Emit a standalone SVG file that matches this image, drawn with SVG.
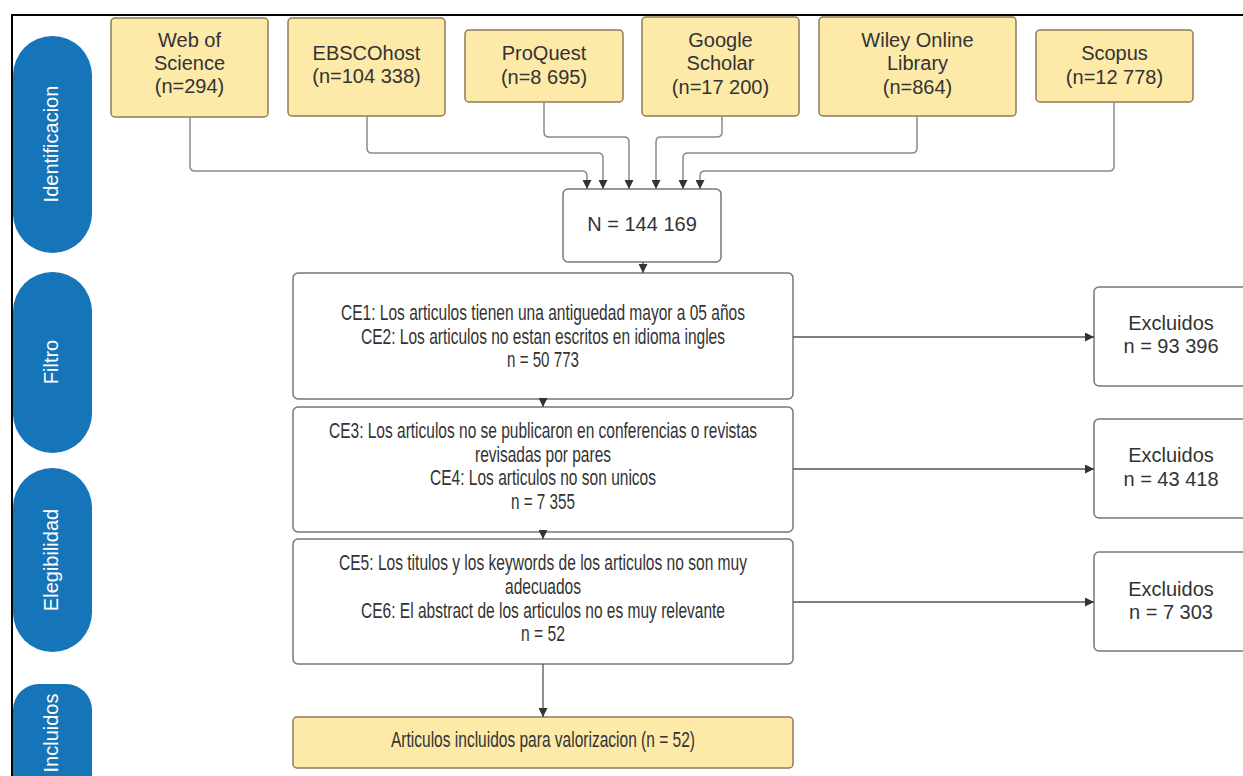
<svg xmlns="http://www.w3.org/2000/svg" width="1243" height="776" viewBox="0 0 1243 776">
<defs>
<marker id="ah" markerUnits="userSpaceOnUse" markerWidth="9" markerHeight="9" refX="9" refY="4.5" orient="auto" viewBox="0 0 9 9">
<path d="M0,0 L9,4.5 L0,9 z" fill="#333"/>
</marker>
<style>
.src{fill:#fde9a8;stroke:#8c7c58;stroke-width:1.5}
.box{fill:#fff;stroke:#777;stroke-width:1.5}
.lane{fill:#1674b8}
.lt{fill:#fff;font-family:"Liberation Sans",Arial,sans-serif;font-size:20px;text-anchor:middle;dominant-baseline:central}
.t{fill:#333;font-family:"Liberation Sans",Arial,sans-serif;font-size:20px;text-anchor:middle}
.c{fill:#333;font-family:"Liberation Sans",Arial,sans-serif;font-size:21.5px;text-anchor:middle}
.con{fill:none;stroke:#8a8a8a;stroke-width:1.5;marker-end:url(#ah)}
.con2{fill:none;stroke:#555;stroke-width:1.3;marker-end:url(#ah)}
</style>
</defs>
<rect width="1243" height="776" fill="#fff"/>
<path d="M12 776 V15 H1243" fill="none" stroke="#000" stroke-width="2"/>

<g id="lane-identificacion"><rect class="lane" x="13" y="36" width="79" height="217" rx="39.5"/><text class="lt" transform="translate(51 144) rotate(-90)">Identificacion</text></g>
<g id="lane-filtro"><rect class="lane" x="13" y="272" width="79" height="181" rx="39.5"/><text class="lt" transform="translate(51 362) rotate(-90)">Filtro</text></g>
<g id="lane-elegibilidad"><rect class="lane" x="13" y="468" width="79" height="184" rx="39.5"/><text class="lt" transform="translate(51 560) rotate(-90)">Elegibilidad</text></g>
<g id="lane-incluidos"><rect class="lane" x="13" y="684" width="79" height="140" rx="26"/><text class="lt" transform="translate(51 733) rotate(-90)">Incluidos</text></g>

<g id="wos"><rect class="src" x="111" y="18" width="157" height="99" rx="4"/><text class="t" x="189.5" y="47">Web of</text><text class="t" x="189.5" y="70">Science</text><text class="t" x="189.5" y="93">(n=294)</text></g>
<g id="ebsco"><rect class="src" x="288" y="18" width="157" height="98" rx="4"/><text class="t" x="366.5" y="60">EBSCOhost</text><text class="t" x="366.5" y="83">(n=104 338)</text></g>
<g id="proquest"><rect class="src" x="465" y="30" width="158" height="72" rx="4"/><text class="t" x="544" y="60">ProQuest</text><text class="t" x="544" y="84">(n=8 695)</text></g>
<g id="scholar"><rect class="src" x="642" y="17" width="157" height="99" rx="4"/><text class="t" x="720.5" y="47">Google</text><text class="t" x="720.5" y="70">Scholar</text><text class="t" x="720.5" y="94">(n=17 200)</text></g>
<g id="wiley"><rect class="src" x="819" y="17" width="197" height="99" rx="4"/><text class="t" x="917.5" y="47">Wiley Online</text><text class="t" x="917.5" y="70">Library</text><text class="t" x="917.5" y="94">(n=864)</text></g>
<g id="scopus"><rect class="src" x="1036" y="30" width="157" height="72" rx="4"/><text class="t" x="1114.5" y="60">Scopus</text><text class="t" x="1114.5" y="84">(n=12 778)</text></g>

<g id="total"><rect class="box" x="563" y="189" width="158" height="73" rx="5"/><text class="t" x="642" y="231">N = 144 169</text></g>

<g id="filtro1"><rect class="box" x="293" y="273" width="500" height="126" rx="5"/>
<text class="c" x="543" y="320" textLength="404" lengthAdjust="spacingAndGlyphs">CE1: Los articulos tienen una antiguedad mayor a 05 años</text>
<text class="c" x="543" y="344" textLength="364" lengthAdjust="spacingAndGlyphs">CE2: Los articulos no estan escritos en idioma ingles</text>
<text class="c" x="543" y="367" textLength="72" lengthAdjust="spacingAndGlyphs">n = 50 773</text></g>

<g id="filtro2"><rect class="box" x="293" y="407" width="500" height="125" rx="5"/>
<text class="c" x="543" y="438" textLength="428" lengthAdjust="spacingAndGlyphs">CE3: Los articulos no se publicaron en conferencias o revistas</text>
<text class="c" x="543" y="462" textLength="136" lengthAdjust="spacingAndGlyphs">revisadas por pares</text>
<text class="c" x="543" y="485" textLength="226" lengthAdjust="spacingAndGlyphs">CE4: Los articulos no son unicos</text>
<text class="c" x="543" y="509" textLength="64" lengthAdjust="spacingAndGlyphs">n = 7 355</text></g>

<g id="filtro3"><rect class="box" x="293" y="539" width="500" height="125" rx="5"/>
<text class="c" x="543" y="570" textLength="408" lengthAdjust="spacingAndGlyphs">CE5: Los titulos y los keywords de los articulos no son muy</text>
<text class="c" x="543" y="594" textLength="76" lengthAdjust="spacingAndGlyphs">adecuados</text>
<text class="c" x="543" y="618" textLength="364" lengthAdjust="spacingAndGlyphs">CE6: El abstract de los articulos no es muy relevante</text>
<text class="c" x="543" y="641" textLength="44" lengthAdjust="spacingAndGlyphs">n = 52</text></g>

<g id="incluidos"><rect class="src" x="293" y="717" width="500" height="51" rx="4"/>
<text class="c" x="543" y="747" textLength="304" lengthAdjust="spacingAndGlyphs">Articulos incluidos para valorizacion (n = 52)</text></g>

<g id="excl1"><rect class="box" x="1094" y="287" width="160" height="99" rx="5"/><text class="t" x="1171" y="330">Excluidos</text><text class="t" x="1171" y="353">n = 93 396</text></g>
<g id="excl2"><rect class="box" x="1094" y="419" width="160" height="99" rx="5"/><text class="t" x="1171" y="462">Excluidos</text><text class="t" x="1171" y="486">n = 43 418</text></g>
<g id="excl3"><rect class="box" x="1094" y="552" width="160" height="99" rx="5"/><text class="t" x="1171" y="596">Excluidos</text><text class="t" x="1171" y="619">n = 7 303</text></g>

<g id="connectors">
<path class="con" d="M190 117 V166 Q190 171 195 171 H582 Q587 171 587 176 V189"/>
<path class="con" d="M367 116 V148 Q367 153 372 153 H598 Q603 153 603 158 V189"/>
<path class="con" d="M544 102 V132 Q544 137 549 137 H624 Q629 137 629 142 V189"/>
<path class="con" d="M722 116 V132 Q722 137 717 137 H661 Q656 137 656 142 V189"/>
<path class="con" d="M917 116 V148 Q917 153 912 153 H688 Q683 153 683 158 V189"/>
<path class="con" d="M1114 102 V166 Q1114 171 1109 171 H705 Q700 171 700 176 V189"/>
<path class="con2" d="M643 262 V273"/>
<path class="con2" d="M543 399 V407"/>
<path class="con2" d="M543 532 V539"/>
<path class="con2" d="M543 664 V717"/>
<path class="con2" d="M793 337 H1094"/>
<path class="con2" d="M793 469 H1094"/>
<path class="con2" d="M793 602 H1094"/>
</g>
</svg>
